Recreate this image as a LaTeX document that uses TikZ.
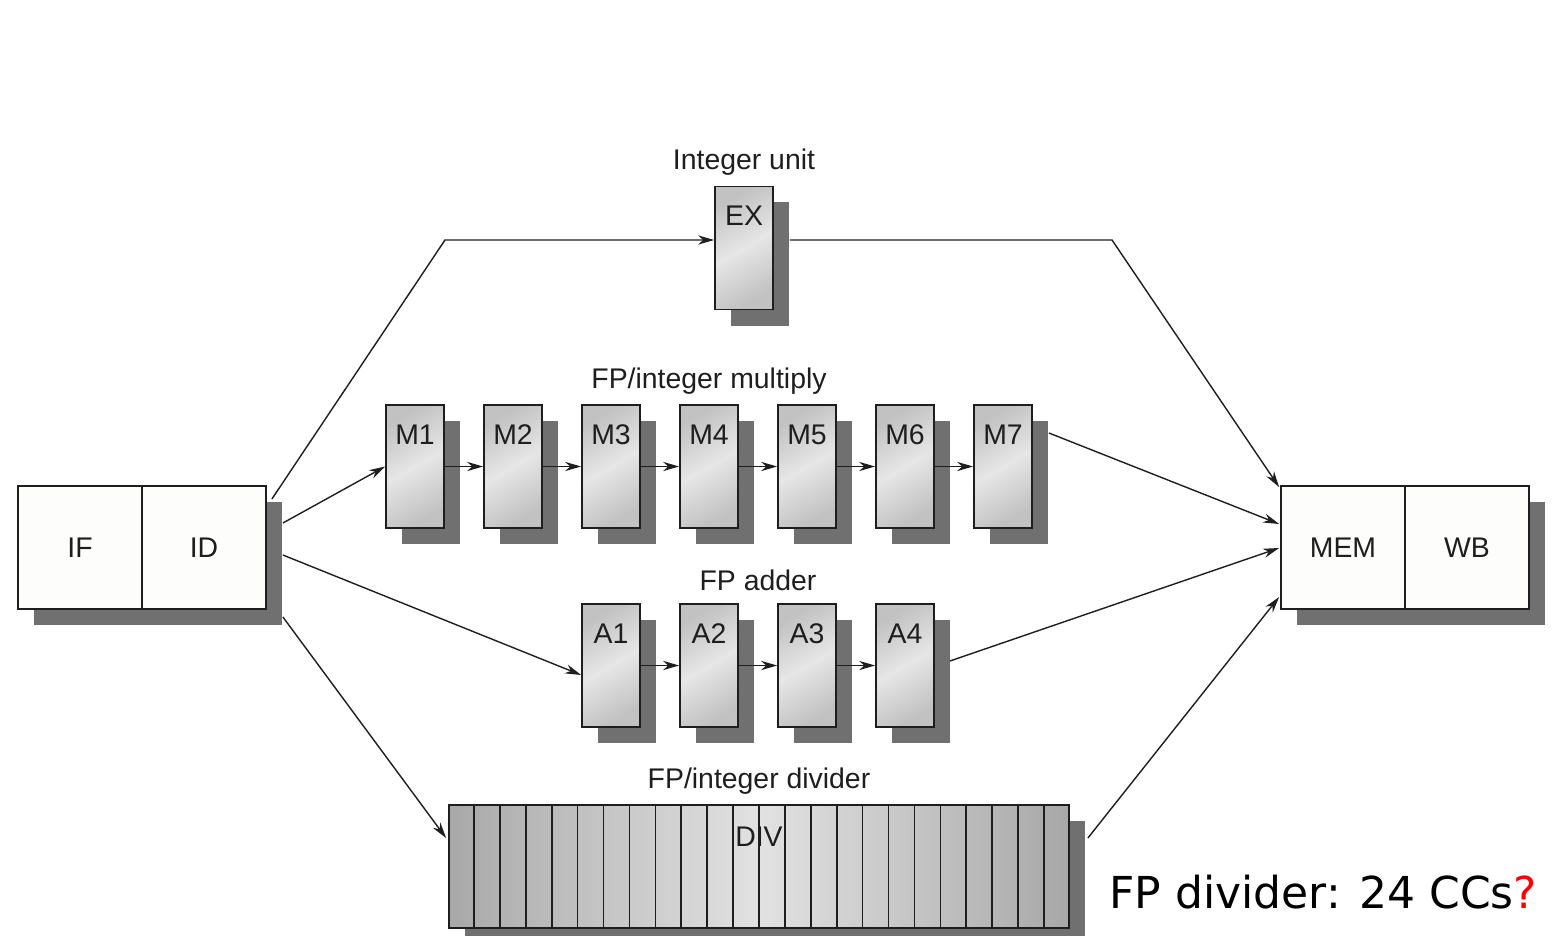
\documentclass[tikz,border=0pt]{standalone}
\usepackage{fontspec}
\setmainfont{Liberation Sans}
\newfontfamily\dejavu{DejaVu Sans}
\usetikzlibrary{arrows.meta,shadows,calc}
\definecolor{shadowgray}{HTML}{707070}
\definecolor{boxdark}{HTML}{C2C2C2}
\definecolor{boxlight}{HTML}{E6E6E6}
\definecolor{divdark}{HTML}{A8A8A8}
\definecolor{divlight}{HTML}{E2E2E2}
\definecolor{inkgray}{HTML}{1E1E1E}
\definecolor{paper}{HTML}{FDFDFB}
\tikzset{
  shadowed/.style={drop shadow={shadow xshift=8pt, shadow yshift=-8pt, fill=shadowgray, opacity=1}},
  stagebox/.style={shadowed, draw=inkgray, line width=0.9pt, inner sep=0pt,
    minimum width=29pt, minimum height=61.5pt, text width=29pt, align=center,
    text height=19.5pt, text depth=42pt, font=\fontsize{14.2}{14.2}\selectfont, text=inkgray,
    top color=boxdark, bottom color=boxdark, middle color=boxlight, shading angle=30},
  pipebox/.style={draw=inkgray, line width=0.9pt, inner sep=0pt, fill=paper,
    minimum width=62pt, minimum height=61.5pt, font=\fontsize{14.2}{14.2}\selectfont, text=inkgray},
  unitlabel/.style={font=\fontsize{14.2}{14.2}\selectfont, text=inkgray, inner sep=0pt},
  conn/.style={line width=0.7pt, draw=inkgray, -{Stealth[length=8pt,width=4.6pt]}},
  plainline/.style={line width=0.7pt, draw=inkgray}
}
\begin{document}
\begin{tikzpicture}[x=0.5pt,y=-0.5pt]
\useasboundingbox (0,0) rectangle (1557,936);
% IF/ID
\node[pipebox, shadowed] (if) at (80,547.5) {IF};
\node[pipebox, shadowed] (id) at (204,547.5) {ID};
% MEM/WB
\node[pipebox, shadowed] (mem) at (1343,547.5) {MEM};
\node[pipebox, shadowed] (wb) at (1467,547.5) {WB};
% Integer unit
\node[unitlabel] (lint) at (744,162) {Integer unit};
\node[stagebox] (ex) at (744,248) {EX};
% Multiply
\node[unitlabel] (lmul) at (709,381) {FP/integer multiply};
\foreach \i in {1,...,7}{
  \node[stagebox] (m\i) at ({415+98*(\i-1)},466.5) {M\i};
}
\foreach \i [evaluate=\i as \j using int(\i+1)] in {1,...,6}{
  \draw[conn] (m\i.east) -- (m\j.west);
}
% Adder
\node[unitlabel] (ladd) at (758,580) {FP adder};
\foreach \i in {1,...,4}{
  \node[stagebox] (a\i) at ({611+98*(\i-1)},665.5) {A\i};
}
\foreach \i [evaluate=\i as \j using int(\i+1)] in {1,...,3}{
  \draw[conn] (a\i.east) -- (a\j.west);
}
% Divider
\node[unitlabel] (ldiv) at (759,781) {FP/integer divider};
\node[stagebox, minimum width=310pt, text width=310pt, text height=20.5pt, text depth=41pt,
  left color=divdark, right color=divdark, middle color=divlight] (div) at (759,866.5) {DIV};
\foreach \i in {1,...,23}{
  \draw[line width=0.8pt, draw=inkgray] ($(div.north west)!\i/24!(div.north east)$) -- ($(div.south west)!\i/24!(div.south east)$);
}
% connectors
\coordinate (c1) at (445,240);
\coordinate (c2) at (1112,240);
\draw[conn] ([shift={(5,-48.5)}]id.east) -- (c1) -- ([shift={(0,-8)}]ex.west);
\draw[conn] ([shift={(16,-8)}]ex.east) -- (c2) -- ([shift={(-1,2)}]mem.north west);
\draw[conn] ([shift={(16,-24.5)}]id.east) -- (m1.west);
\draw[conn] ([shift={(16,7.5)}]id.east) -- ([shift={(0,9.5)}]a1.west);
\draw[conn] ([shift={(16,69.5)}]id.east) -- ([shift={(-2,-28.5)}]div.west);
\draw[conn] ([shift={(16,-33.5)}]m7.east) -- ([shift={(-1,-23.5)}]mem.west);
\draw[conn] ([shift={(15,-4.5)}]a4.east) -- ([shift={(-1,0.5)}]mem.west);
\draw[conn] ([shift={(18,-28.5)}]div.east) -- ([shift={(-1,49.5)}]mem.west);
% note
\node[anchor=west, inner sep=0pt, font=\dejavu\fontsize{22}{22}\selectfont] (note) at (1109,892) {FP divider: 24 CCs\textcolor{red}{?}};
\end{tikzpicture}
\end{document}
